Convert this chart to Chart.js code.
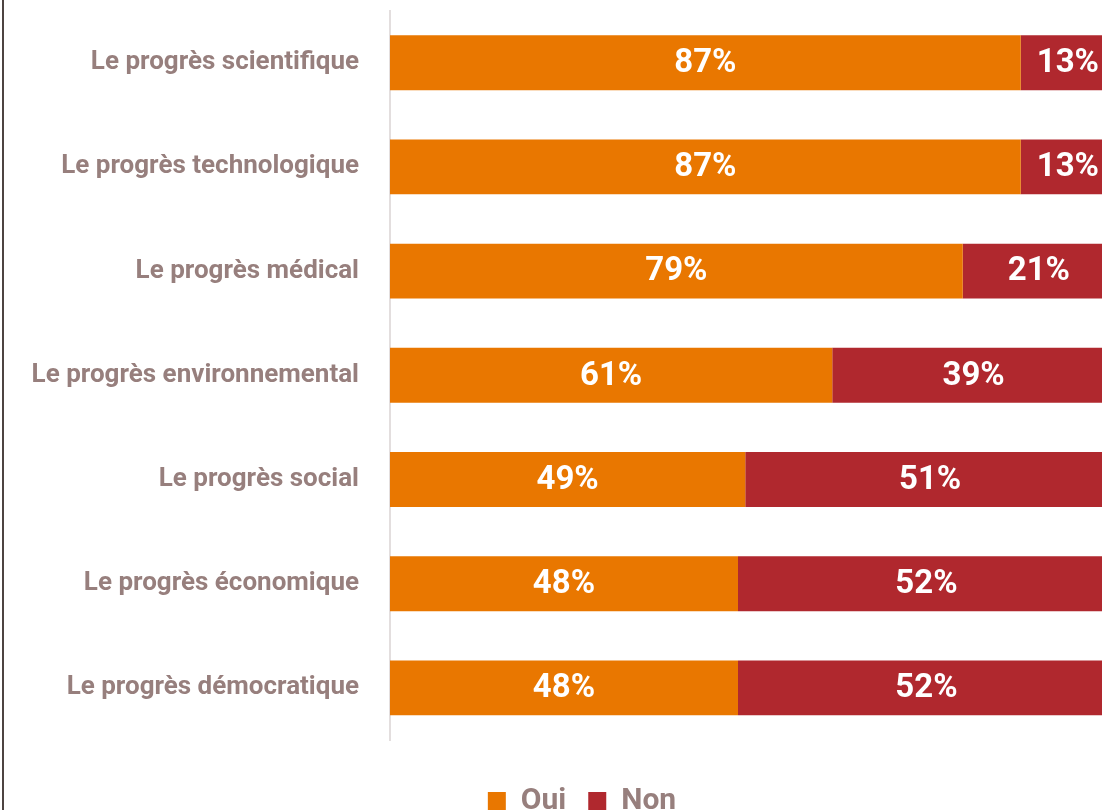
<!DOCTYPE html>
<html>
<head>
<meta charset="utf-8">
<script src="https://cdn.jsdelivr.net/npm/chart.js@4/dist/chart.umd.min.js"></script>
<style>
  html, body { margin: 0; padding: 0; background: #fff; }
  #wrap { position: relative; width: 1102px; height: 810px; overflow: hidden; }
  #edge { position: absolute; left: 2px; top: 0; width: 2px; height: 810px; background: #4e4441; }
  #progresChart { position: absolute; left: 0; top: -28px; }
</style>
</head>
<body>
<div id="wrap">
  <canvas id="progresChart" width="1115" height="854"></canvas>
  <div id="edge"></div>
</div>
<script>
const categories = [
  'Le progrès scientifique',
  'Le progrès technologique',
  'Le progrès médical',
  'Le progrès environnemental',
  'Le progrès social',
  'Le progrès économique',
  'Le progrès démocratique'
];
const oui = [87, 87, 79, 61, 49, 48, 48];
const non = [13, 13, 21, 39, 51, 52, 52];

const labelColor = '#977f7d';

// étiquettes de valeur au centre de chaque segment
const valueLabels = {
  id: 'valueLabels',
  afterDatasetsDraw(chart) {
    const ctx = chart.ctx;
    ctx.save();
    ctx.fillStyle = '#fff';
    ctx.font = 'bold 33px Roboto';
    ctx.textAlign = 'center';
    ctx.textBaseline = 'middle';
    chart.data.datasets.forEach((ds, i) => {
      chart.getDatasetMeta(i).data.forEach((bar, j) => {
        const x = (bar.x + bar.base) / 2;
        ctx.fillText(ds.data[j] + '%', x, bar.y + 1);
      });
    });
    ctx.restore();
  }
};

// décale la légende vers la droite (centrée sous la zone des barres)
const legendShift = {
  id: 'legendShift',
  afterLayout(chart) {
    chart.legend.left += 49;
  }
};

const ctx = document.getElementById('progresChart').getContext('2d');
new Chart(ctx, {
  type: 'bar',
  data: {
    labels: categories,
    datasets: [
      { label: 'Oui', data: oui, backgroundColor: '#e97700', barPercentage: 0.527, categoryPercentage: 1 },
      { label: 'Non', data: non, backgroundColor: '#b0282e', barPercentage: 0.527, categoryPercentage: 1 }
    ]
  },
  options: {
    indexAxis: 'y',
    responsive: false,
    animation: false,
    layout: { padding: { top: 10, left: 0, right: 0, bottom: 0 } },
    scales: {
      x: {
        stacked: true,
        min: 0,
        max: 100,
        grid: { display: false },
        border: { display: false },
        ticks: { display: false },
        afterFit: s => { s.height = 24; }
      },
      y: {
        stacked: true,
        grid: { display: false },
        border: { color: '#e3dede', width: 2 },
        ticks: {
          color: labelColor,
          padding: 23,
          font: { family: 'Roboto', weight: 'bold', size: 26 }
        },
        afterFit: s => { s.width = 390; }
      }
    },
    plugins: {
      tooltip: { enabled: false },
      legend: {
        position: 'bottom',
        labels: {
          color: labelColor,
          boxWidth: 18,
          boxHeight: 18,
          padding: 22,
          font: { family: 'Roboto', weight: 'bold', size: 30 }
        }
      }
    }
  },
  plugins: [valueLabels, legendShift]
});
</script>
</body>
</html>
